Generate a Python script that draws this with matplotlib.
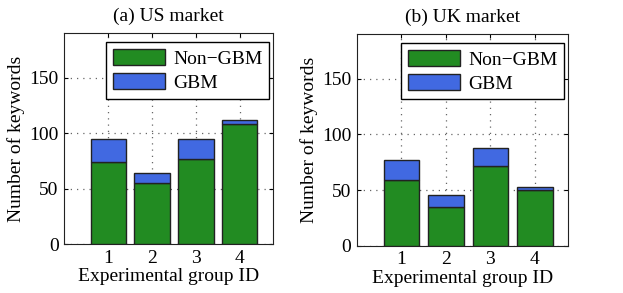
import matplotlib.pyplot as plt

plt.rcParams['font.family'] = ['Liberation Serif', 'DejaVu Serif']
plt.rcParams['font.size'] = 14

groups = [1, 2, 3, 4]
us_non_gbm = [74, 55, 77, 108]
us_gbm = [21, 9, 18, 4]
uk_non_gbm = [59, 35, 72, 50]
uk_gbm = [18, 11, 16, 3]

fig = plt.figure(figsize=(6.23, 2.93), dpi=100)
ax1 = fig.add_axes([0.103, 0.166, 0.335, 0.720])
ax2 = fig.add_axes([0.573, 0.161, 0.339, 0.722])

green = '#228b22'
blue = '#4169e1'

for ax, non, gbm, title in [(ax1, us_non_gbm, us_gbm, '(a) US market'),
                            (ax2, uk_non_gbm, uk_gbm, '(b) UK market')]:
    ax.bar(groups, non, width=0.8, color=green, edgecolor='#222222', linewidth=1, label='Non\u2212GBM', zorder=3)
    ax.bar(groups, gbm, width=0.8, bottom=non, color=blue, edgecolor='#222222', linewidth=1, label='GBM', zorder=3)
    ax.set_xlim(0, 4.75)
    ax.set_ylim(0, 190)
    ax.set_xticks(groups)
    ax.set_yticks([0, 50, 100, 150])
    ax.grid(True, linestyle=(0, (1, 4)), color='#666666', linewidth=0.9, zorder=0)
    ax.tick_params(direction='in', top=True, right=True, length=3, pad=4)
    ax.set_xlabel('Experimental group ID', labelpad=1)
    ax.set_ylabel('Number of keywords', labelpad=3)
    ax.set_title(title, fontsize=14, pad=9)
    leg = ax.legend(loc='upper right', bbox_to_anchor=(0.982, 0.957), fancybox=False,
                    edgecolor='black', framealpha=1,
                    handlelength=2.7, handleheight=0.9, borderaxespad=0,
                    labelspacing=0.25, handletextpad=0.4, borderpad=0.35)
    leg.get_frame().set_linewidth(1)
    leg.set_zorder(5)
    for s in ax.spines.values():
        s.set_color('#222222')

fig.savefig('out.png', dpi=100)
